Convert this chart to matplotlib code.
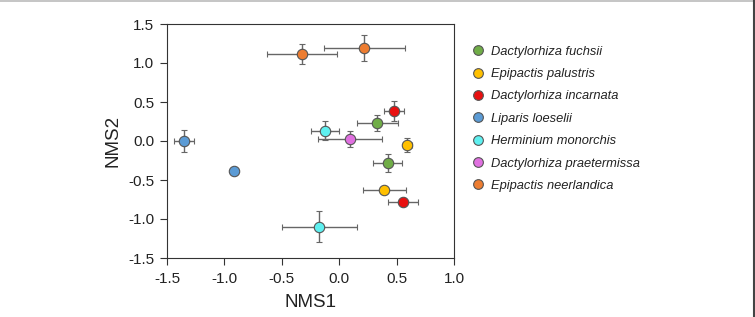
import matplotlib
matplotlib.use("Agg")
import matplotlib.pyplot as plt
from matplotlib.lines import Line2D

plt.rcParams["font.family"] = ["Liberation Sans", "DejaVu Sans"]

species = ["Dactylorhiza fuchsii", "Epipactis palustris", "Dactylorhiza incarnata",
           "Liparis loeselii", "Herminium monorchis", "Dactylorhiza praetermissa",
           "Epipactis neerlandica"]
colors = ["#70AD47", "#FFC000", "#E81010", "#5B9BD5", "#5EF0F0", "#E070E0", "#ED7D31"]

# points per species: x, y, xerr, yerr
pt_species = [0, 0, 1, 1, 2, 2, 3, 3, 4, 4, 5, 6, 6]
pt_x = [0.332, 0.422, 0.594, 0.393, 0.480, 0.556, -1.355, -0.916, -0.124, -0.173, 0.091, -0.324, 0.219]
pt_y = [0.227, -0.282, -0.051, -0.632, 0.385, -0.778, 0.004, -0.389, 0.132, -1.099, 0.026, 1.115, 1.192]
pt_xerr = [0.18, 0.128, 0.036, 0.19, 0.087, 0.133, 0.087, 0.0, 0.12, 0.325, 0.28, 0.305, 0.35]
pt_yerr = [0.10, 0.12, 0.09, 0.0, 0.128, 0.03, 0.14, 0.0, 0.12, 0.20, 0.10, 0.13, 0.165]

x_ticks = [-1.5, -1.0, -0.5, 0.0, 0.5, 1.0]
y_ticks = [-1.5, -1.0, -0.5, 0.0, 0.5, 1.0, 1.5]

fig = plt.figure(figsize=(7.55, 3.17), dpi=100)
ax = fig.add_axes([167/755, 1 - 258/317, (454-167)/755, (258-24)/317])

for s, x, y, xe, ye in zip(pt_species, pt_x, pt_y, pt_xerr, pt_yerr):
    ax.errorbar(x, y, xerr=xe if xe > 0 else None, yerr=ye if ye > 0 else None,
                fmt="o", color="#666666", ecolor="#666666", elinewidth=1.0,
                capsize=2.5, capthick=1.0, markersize=7.5,
                markerfacecolor=colors[s], markeredgecolor="#555555",
                markeredgewidth=0.8, zorder=3)

ax.set_xlim(-1.5, 1.0)
ax.set_ylim(-1.5, 1.5)
ax.set_xticks(x_ticks)
ax.set_yticks(y_ticks)
ax.set_xticklabels([f"{v:.1f}" for v in x_ticks], fontsize=11, color="#222222")
ax.set_yticklabels([f"{v:.1f}" for v in y_ticks], fontsize=11, color="#222222")
ax.tick_params(direction="out", length=5, width=0.8, color="#333333", top=False, right=False)
ax.tick_params(axis="x", pad=5)
ax.tick_params(axis="y", pad=4)
for sp in ax.spines.values():
    sp.set_color("#333333")
    sp.set_linewidth(0.8)
ax.set_xlabel("NMS1", fontsize=13.5, color="#222222", labelpad=6)
ax.set_ylabel("NMS2", fontsize=13.5, color="#222222", labelpad=5)

handles = [Line2D([0], [0], marker="o", linestyle="none", markersize=7,
                  markerfacecolor=c, markeredgecolor="#555555", markeredgewidth=0.8)
           for c in colors]
fig.legend(handles, species, loc="upper left", bbox_to_anchor=(459/755, 1 - 34/317),
           frameon=False, prop={"style": "italic", "size": 9.3}, labelspacing=0.80,
           handletextpad=0.35, handlelength=1.2, labelcolor="#222222")

fig.add_artist(Line2D([0, 1], [0.998, 0.998], transform=fig.transFigure, color="#BBBBBB", lw=1.2))
fig.add_artist(Line2D([0.9985, 0.9985], [0, 1], transform=fig.transFigure, color="#444444", lw=1.5))

fig.savefig("out.png", dpi=100)
